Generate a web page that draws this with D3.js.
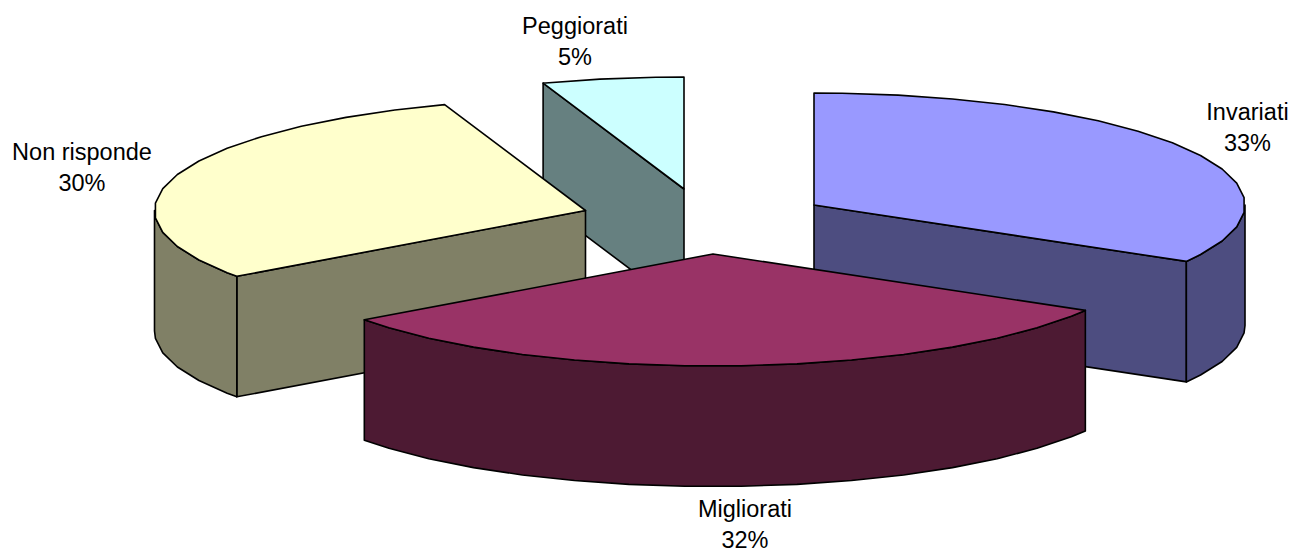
<!DOCTYPE html>
<html>
<head>
<meta charset="utf-8">
<script src="https://cdn.jsdelivr.net/npm/d3@7"></script>
<style>
html,body{margin:0;padding:0;background:#fff;overflow:hidden}
svg{display:block}
text{font-family:"Liberation Sans",Arial,sans-serif;font-size:23.5px;fill:#000;text-anchor:middle}
</style>
</head>
<body>
<svg id="c" width="1294" height="552"></svg>
<script>
const categories = ["Invariati", "Migliorati", "Non risponde", "Peggiorati"];
const seriesValues = [33.4, 31.6, 29.7, 5.3];
const topColors = ["#9999FF", "#993366", "#FFFFCC", "#CCFFFF"];
const sideColors = ["#4D4D80", "#4D1A33", "#808066", "#668080"];
const apexX = [814, 713, 585.5, 684];
const apexY = [205, 254, 210.5, 189];
const labelX = [1247.5, 745, 82, 575];
const labelY = [120, 517, 160, 34];
const drawOrder = [3, 2, 0, 1];

const RX = 431, RY = 112, DEPTH = 120.5, STEP = Math.PI / 24;
const sx = d3.scaleLinear().domain([-1, 1]).range([-RX, RX]);
const sy = d3.scaleLinear().domain([-1, 1]).range([-RY, RY]);
const pct = d3.format(".0f");
const line = d3.line();
const svg = d3.select("#c");

const arcs = d3.pie().sort(null).value(d => d)(seriesValues);

function pt(i, a, dz = 0) {
  return [apexX[i] + sx(Math.sin(a)), apexY[i] - sy(Math.cos(a)) + dz];
}
// rim vertices on a coarse grid, as in the reference's faceted outline
function rim(i, a0, a1, dz = 0) {
  const pts = [pt(i, a0, dz)];
  let k = Math.ceil((a0 - STEP / 2) / STEP + 1e-6);
  for (;; k++) {
    const a = STEP / 2 + k * STEP;
    if (a >= a1 - 1e-6) break;
    if (a > a0 + 1e-6) pts.push(pt(i, a, dz));
  }
  pts.push(pt(i, a1, dz));
  return pts;
}
function face(pts, fill) {
  svg.append("path")
    .attr("d", line(pts) + "Z")
    .attr("fill", fill)
    .attr("stroke", "#000")
    .attr("stroke-width", 1.6)
    .attr("stroke-linejoin", "round");
}

drawOrder.forEach(i => {
  const { startAngle: a0, endAngle: a1 } = arcs[i];
  const apex = [apexX[i], apexY[i]];
  const side = sideColors[i];
  const down = p => [p[0], p[1] + DEPTH];

  if (a0 > Math.PI && a0 < 2 * Math.PI) {
    const p = pt(i, a0);
    face([p, apex, down(apex), down(p)], side);
  }
  if (a1 > 0 && a1 < Math.PI) {
    const p = pt(i, a1);
    face([apex, p, down(p), down(apex)], side);
  }
  const w0 = Math.max(a0, Math.PI / 2), w1 = Math.min(a1, 3 * Math.PI / 2);
  if (w1 > w0) {
    const r = rim(i, w0, w1);
    face(r.concat(r.map(down).reverse()), side);
  }
  face([apex].concat(rim(i, a0, a1)), topColors[i]);
});

categories.forEach((c, i) => {
  const t = svg.append("text").attr("x", labelX[i]).attr("y", labelY[i]);
  t.append("tspan").attr("x", labelX[i]).text(c);
  t.append("tspan").attr("x", labelX[i]).attr("dy", 30.5).text(pct(seriesValues[i]) + "%");
});
</script>
</body>
</html>
